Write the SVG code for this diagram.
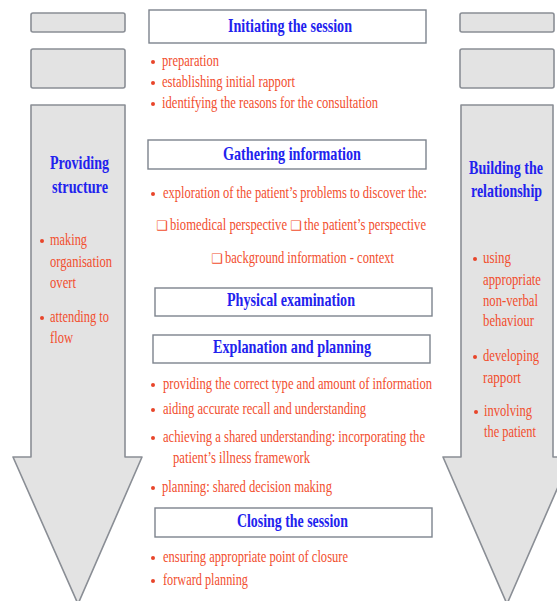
<svg xmlns="http://www.w3.org/2000/svg" width="557" height="601" viewBox="0 0 557 601">
<style>
.g{fill:#e3e3e3;stroke:#8a8e95;stroke-width:1.6}
.b{fill:#fff;stroke:#7d838d;stroke-width:1.4}
.h{font-family:"Liberation Serif",serif;font-weight:bold;font-size:19px;fill:#2222ee}
.t{font-family:"Liberation Serif",serif;font-size:17.5px;fill:#f24e2e}
.s{font-family:"DejaVu Sans",sans-serif;font-size:13px;fill:#f24e2e}
.d{fill:#e8452a}
</style>
<rect width="557" height="601" fill="#fff"/>
<g id="left-column">
<rect class="g" x="31" y="13" width="94" height="19" rx="2"/>
<rect class="g" x="31" y="49" width="94" height="39" rx="2"/>
<polygon class="g" points="31,105 125,105 125,457 142,457 78,604 13,457 31,457" stroke-linejoin="round"/>
<text class="h" x="50" y="169" textLength="59" lengthAdjust="spacingAndGlyphs">Providing</text>
<text class="h" x="52" y="193" textLength="56" lengthAdjust="spacingAndGlyphs">structure</text>
<circle class="d" cx="42" cy="241" r="2"/>
<text class="t" x="50" y="245" textLength="37" lengthAdjust="spacingAndGlyphs">making</text>
<text class="t" x="50" y="267" textLength="62" lengthAdjust="spacingAndGlyphs">organisation</text>
<text class="t" x="50" y="288" textLength="26" lengthAdjust="spacingAndGlyphs">overt</text>
<circle class="d" cx="42" cy="318" r="2"/>
<text class="t" x="50" y="322" textLength="59" lengthAdjust="spacingAndGlyphs">attending to</text>
<text class="t" x="50" y="343" textLength="23" lengthAdjust="spacingAndGlyphs">flow</text>
</g>
<g id="right-column">
<rect class="g" x="460" y="13" width="94" height="19" rx="2"/>
<rect class="g" x="460" y="49" width="94" height="39" rx="2"/>
<polygon class="g" points="461,105 553,105 553,457 571,457 507,604 443,457 461,457" stroke-linejoin="round"/>
<text class="h" x="469" y="174" textLength="74" lengthAdjust="spacingAndGlyphs">Building the</text>
<text class="h" x="471" y="197" textLength="71" lengthAdjust="spacingAndGlyphs">relationship</text>
<circle class="d" cx="475" cy="259" r="2"/>
<text class="t" x="483" y="263" textLength="28" lengthAdjust="spacingAndGlyphs">using</text>
<text class="t" x="483" y="285" textLength="58" lengthAdjust="spacingAndGlyphs">appropriate</text>
<text class="t" x="483" y="306" textLength="55" lengthAdjust="spacingAndGlyphs">non-verbal</text>
<text class="t" x="483" y="326" textLength="51" lengthAdjust="spacingAndGlyphs">behaviour</text>
<circle class="d" cx="475" cy="357" r="2"/>
<text class="t" x="483" y="361" textLength="56" lengthAdjust="spacingAndGlyphs">developing</text>
<text class="t" x="483" y="383" textLength="38" lengthAdjust="spacingAndGlyphs">rapport</text>
<circle class="d" cx="476" cy="412" r="2"/>
<text class="t" x="484" y="416" textLength="48" lengthAdjust="spacingAndGlyphs">involving</text>
<text class="t" x="484" y="437" textLength="52" lengthAdjust="spacingAndGlyphs">the patient</text>
</g>
<g id="initiating">
<rect class="b" x="149" y="10" width="277" height="33"/>
<text class="h" x="228" y="32" textLength="124" lengthAdjust="spacingAndGlyphs">Initiating the session</text>
<circle class="d" cx="153" cy="62" r="2"/>
<text class="t" x="162" y="66" textLength="57" lengthAdjust="spacingAndGlyphs">preparation</text>
<circle class="d" cx="153" cy="83" r="2"/>
<text class="t" x="162" y="87" textLength="133" lengthAdjust="spacingAndGlyphs">establishing initial rapport</text>
<circle class="d" cx="153" cy="104" r="2"/>
<text class="t" x="162" y="108" textLength="216" lengthAdjust="spacingAndGlyphs">identifying the reasons for the consultation</text>
</g>
<g id="gathering">
<rect class="b" x="148" y="140" width="278" height="29"/>
<text class="h" x="223" y="160" textLength="138" lengthAdjust="spacingAndGlyphs">Gathering information</text>
<circle class="d" cx="153" cy="194" r="2"/>
<text class="t" x="163" y="198" textLength="264" lengthAdjust="spacingAndGlyphs">exploration of the patient’s problems to discover the:</text>
<text class="s" x="156" y="230">❑</text>
<text class="t" x="170" y="230" textLength="117" lengthAdjust="spacingAndGlyphs">biomedical perspective</text>
<text class="s" x="290" y="230">❑</text>
<text class="t" x="304" y="230" textLength="122" lengthAdjust="spacingAndGlyphs">the patient’s perspective</text>
<text class="s" x="211" y="263">❑</text>
<text class="t" x="225" y="263" textLength="169" lengthAdjust="spacingAndGlyphs">background information - context</text>
</g>
<g id="physical">
<rect class="b" x="155" y="288" width="277" height="28"/>
<text class="h" x="227" y="306" textLength="128" lengthAdjust="spacingAndGlyphs">Physical examination</text>
</g>
<g id="explanation">
<rect class="b" x="153" y="335" width="277" height="28"/>
<text class="h" x="213" y="353" textLength="158" lengthAdjust="spacingAndGlyphs">Explanation and planning</text>
<circle class="d" cx="153" cy="385" r="2"/>
<text class="t" x="163" y="389" textLength="269" lengthAdjust="spacingAndGlyphs">providing the correct type and amount of information</text>
<circle class="d" cx="153" cy="410" r="2"/>
<text class="t" x="163" y="414" textLength="203" lengthAdjust="spacingAndGlyphs">aiding accurate recall and understanding</text>
<circle class="d" cx="153" cy="438" r="2"/>
<text class="t" x="163" y="442" textLength="262" lengthAdjust="spacingAndGlyphs">achieving a shared understanding: incorporating the</text>
<text class="t" x="173" y="463" textLength="137" lengthAdjust="spacingAndGlyphs">patient’s illness framework</text>
<circle class="d" cx="153" cy="488" r="2"/>
<text class="t" x="162" y="492" textLength="170" lengthAdjust="spacingAndGlyphs">planning: shared decision making</text>
</g>
<g id="closing">
<rect class="b" x="155" y="508" width="277" height="29"/>
<text class="h" x="237" y="527" textLength="111" lengthAdjust="spacingAndGlyphs">Closing the session</text>
<circle class="d" cx="153" cy="558" r="2"/>
<text class="t" x="163" y="562" textLength="185" lengthAdjust="spacingAndGlyphs">ensuring appropriate point of closure</text>
<circle class="d" cx="153" cy="581" r="2"/>
<text class="t" x="163" y="585" textLength="85" lengthAdjust="spacingAndGlyphs">forward planning</text>
</g>
<g id="connectors"/>
</svg>
